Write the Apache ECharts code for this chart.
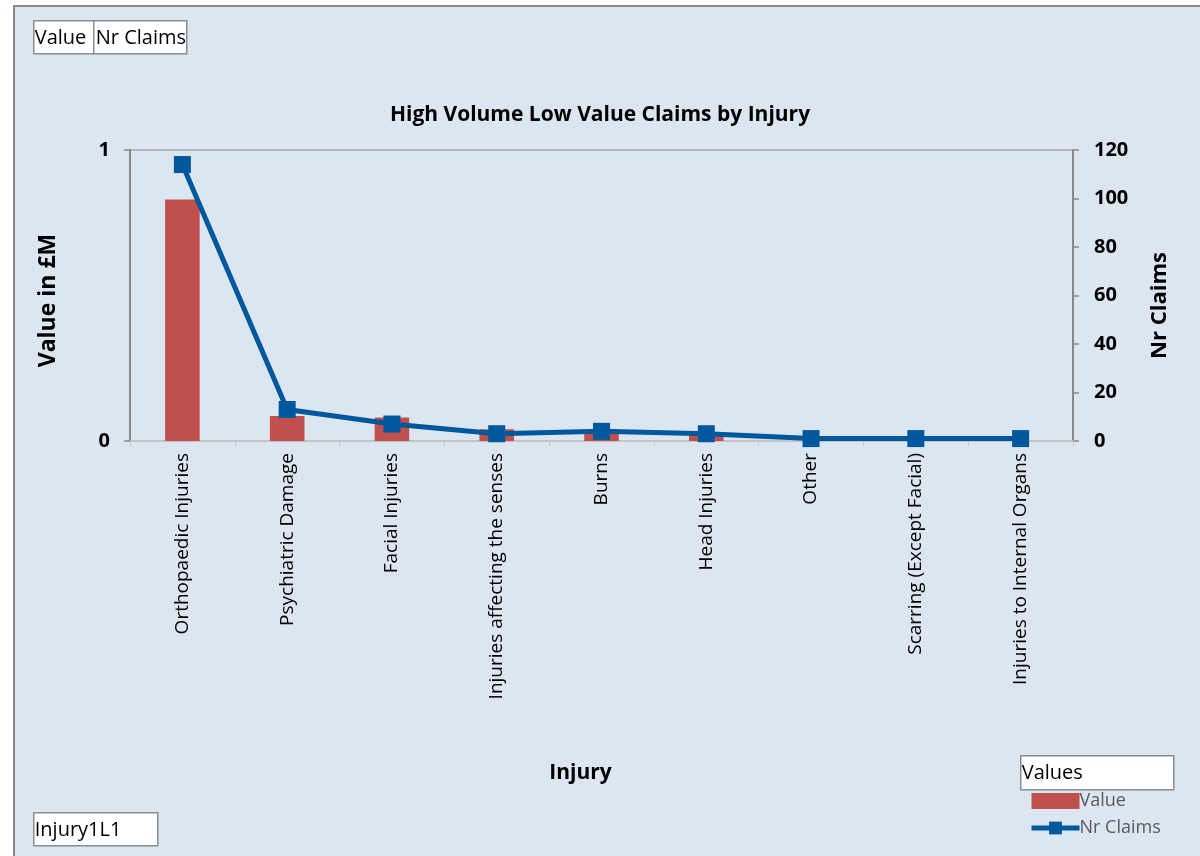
<!DOCTYPE html>
<html>
<head>
<meta charset="utf-8">
<script src="https://cdn.jsdelivr.net/npm/echarts@6/dist/echarts.min.js"></script>
<style>
html,body{margin:0;padding:0;background:#ffffff;}
#c{width:1200px;height:856px;}
</style>
</head>
<body>
<div id="c"></div>
<script>
const categories = ["Orthopaedic Injuries","Psychiatric Damage","Facial Injuries","Injuries affecting the senses","Burns","Head Injuries","Other","Scarring (Except Facial)","Injuries to Internal Organs"];
const valueSeries = [0.83, 0.086, 0.081, 0.04, 0.026, 0.022, 0, 0, 0];
const claimsSeries = [114, 13, 7, 3, 4, 3, 1, 1, 1];
const leftTicks = [0, 1];
const rightTicks = [0, 20, 40, 60, 80, 100, 120];

const FONT = "'Open Sans', 'Noto Sans', sans-serif";
const chart = echarts.init(document.getElementById('c'), null, {renderer:'canvas'});

function box(x, y, w, h, text, fs) {
  return {
    type: 'group', left: x, top: y, children: [
      {type:'rect', shape:{x:0,y:0,width:w,height:h}, style:{fill:'#ffffff', stroke:'#8c8c8c', lineWidth:1.5}},
      {type:'text', x:1, y:h/2+1, style:{text:text, fill:'#000', font:'400 '+fs+'px '+FONT, verticalAlign:'middle'}}
    ]
  };
}

chart.setOption({
  animation:false,
  backgroundColor:'#ffffff',
  textStyle:{fontFamily:FONT},
  title:{text:'High Volume Low Value Claims by Injury', left:'center', top:100,
    textStyle:{fontSize:21, fontWeight:'bold', color:'#000', fontFamily:FONT}},
  grid:{left:130, right:127, top:150, bottom:415, containLabel:false},
  legend:{
    orient:'vertical', left:1029, top:792, padding:0, itemGap:9, itemWidth:48, itemHeight:16,
    textStyle:{fontSize:18, color:'#595959', fontFamily:FONT, padding:[0,0,0,-5]},
    data:[{name:'Value', icon:'rect'}, {name:'Nr Claims', lineStyle:{width:5}}]
  },
  graphic:[
    {type:'rect', z:-10, shape:{x:14, y:6, width:1200, height:860}, style:{fill:'#dce6f1', stroke:'#888888', lineWidth:2}},
    {type:'group', left:33, top:20, children:[
      {type:'rect', shape:{x:0,y:0,width:60,height:33}, style:{fill:'#fff', stroke:'#8c8c8c', lineWidth:1.5}},
      {type:'text', x:1, y:18, style:{text:'Value', fill:'#000', font:'400 20px '+FONT, verticalAlign:'middle'}},
      {type:'rect', shape:{x:60,y:0,width:93,height:33}, style:{fill:'#fff', stroke:'#8c8c8c', lineWidth:1.5}},
      {type:'text', x:62, y:18, style:{text:'Nr Claims', fill:'#000', font:'400 20px '+FONT, verticalAlign:'middle'}}
    ]},
    box(33, 812, 124, 33, 'Injury1L1', 20),
    box(1020, 755, 153, 34, 'Values', 20)
  ],
  xAxis:{
    type:'category', data:categories,
    name:'Injury', nameLocation:'middle', nameGap:322,
    nameTextStyle:{fontSize:21, fontWeight:'bold', color:'#000', fontFamily:FONT, padding:[0,42,0,0]},
    axisLine:{lineStyle:{color:'#c8c8c8', width:1.5}},
    axisTick:{show:true, length:5, lineStyle:{color:'#c8c8c8'}},
    axisLabel:{rotate:90, fontSize:19, color:'#000', margin:12, interval:0, fontFamily:FONT}
  },
  yAxis:[
    {type:'value', min:0, max:1, interval:1, position:'left',
     name:'Value in £M', nameLocation:'middle', nameGap:70, nameRotate:90,
     nameTextStyle:{fontSize:23, fontWeight:'bold', color:'#000', fontFamily:FONT, padding:[0,10,0,0]},
     axisLine:{show:true, lineStyle:{color:'#888888', width:2}},
     axisTick:{show:true, length:6, lineStyle:{color:'#888888', width:1.5}},
     axisLabel:{fontSize:20, fontWeight:'bold', color:'#000', margin:20, fontFamily:FONT},
     splitLine:{show:true, lineStyle:{color:'#a6a6a6', width:1.5}}
    },
    {type:'value', min:0, max:120, interval:20, position:'right',
     name:'Nr Claims', nameLocation:'middle', nameGap:76, nameRotate:90,
     nameTextStyle:{fontSize:22, fontWeight:'bold', color:'#000', fontFamily:FONT, padding:[0,20,0,0]},
     axisLine:{show:true, lineStyle:{color:'#888888', width:2}},
     axisTick:{show:true, length:6, lineStyle:{color:'#888888', width:1.5}},
     axisLabel:{fontSize:20, fontWeight:'bold', color:'#000', margin:21, fontFamily:FONT},
     splitLine:{show:false}
    }
  ],
  series:[
    {name:'Value', type:'bar', yAxisIndex:0, data:valueSeries, barWidth:'33%',
     itemStyle:{color:'#c0504d'}},
    {name:'Nr Claims', type:'line', yAxisIndex:1, data:claimsSeries,
     symbol:'rect', symbolSize:17,
     lineStyle:{color:'#00589c', width:5},
     itemStyle:{color:'#00589c'}}
  ]
});
</script>
</body>
</html>
